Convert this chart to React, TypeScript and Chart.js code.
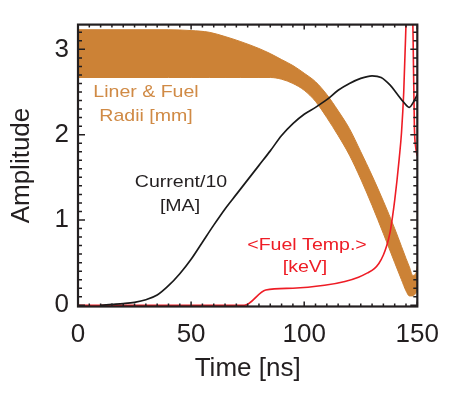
import React, { useEffect, useRef } from 'react';
import { Chart, registerables } from 'chart.js';

Chart.register(...registerables);

// Liner & fuel radii band (mm)
const bandTime = [0, 40, 50, 58, 65, 72, 80, 85, 90, 95, 100, 105, 110, 115, 120, 125, 130, 135, 140, 143, 145, 146.5, 148, 149.3, 150];
const linerOuter = [3.23, 3.23, 3.22, 3.2, 3.15, 3.09, 3.01, 2.95, 2.88, 2.81, 2.72, 2.62, 2.47, 2.28, 2.07, 1.8, 1.52, 1.22, 0.9, 0.69, 0.55, 0.45, 0.35, 0.37, 0.46];
const fuelInner = [2.67, 2.67, 2.67, 2.67, 2.67, 2.67, 2.67, 2.67, 2.65, 2.6, 2.52, 2.39, 2.2, 1.99, 1.76, 1.48, 1.17, 0.84, 0.5, 0.3, 0.17, 0.11, 0.11, 0.14, 0.18];

// Current / 10 (MA)
const currentTime = [10, 15, 20, 25, 30, 35, 40, 45, 50, 55, 60, 65, 70, 75, 80, 85, 90, 95, 100, 105, 110, 115, 120, 125, 130, 134, 138, 141, 144, 146.5, 148, 150];
const currentValues = [0, 0.01, 0.02, 0.035, 0.065, 0.12, 0.23, 0.37, 0.54, 0.74, 0.94, 1.13, 1.3, 1.47, 1.64, 1.81, 1.99, 2.13, 2.24, 2.32, 2.41, 2.52, 2.6, 2.66, 2.69, 2.67, 2.58, 2.48, 2.38, 2.32, 2.37, 2.47];

// <Fuel Temp.> (keV)
const tempTime = [0, 73.5, 83, 95, 109, 118, 124, 128, 131, 133, 135, 136.5, 138, 139, 140, 141, 142, 143, 144, 145, 146, 146.8, 147.5, 148.1, 148.7, 149.3, 150];
const tempValues = [0, 0, 0.18, 0.2, 0.235, 0.28, 0.33, 0.38, 0.43, 0.49, 0.59, 0.7, 0.86, 1.03, 1.23, 1.46, 1.72, 2.02, 2.5, 3.3, 4.2, 4.6, 4.0, 3.2, 2.1, 1.85, 1.75];

const xTickValues = [0, 50, 100, 150];
const yTickValues = [0, 1, 2, 3];

const BAND = '#cc8236';
const RED = '#ee1c25';
const INK = '#231f20';
const FONT = "'Liberation Sans', Arial, Helvetica, sans-serif";

const zip = (xs: number[], ys: number[]) => xs.map((x, i) => ({ x, y: ys[i] }));

const framePlugin = {
  id: 'frame',
  afterDatasetsDraw(chart: any) {
    const { ctx, chartArea, scales } = chart;
    const { left, right, top, bottom } = chartArea;
    const xs = scales.x;
    const ys = scales.y;
    ctx.save();
    ctx.strokeStyle = INK;
    ctx.lineWidth = 1.5;
    ctx.beginPath();
    for (let t = 0; t <= 150; t += 5) {
      const px = xs.getPixelForValue(t);
      const len = t % 50 === 0 ? 5 : 3;
      ctx.moveTo(px, bottom);
      ctx.lineTo(px, bottom - len);
      ctx.moveTo(px, top);
      ctx.lineTo(px, top + len);
    }
    for (let k = 0; k <= 32; k++) {
      const v = k / 10;
      const py = ys.getPixelForValue(v);
      const len = k % 10 === 0 ? 7 : 4;
      ctx.moveTo(left, py);
      ctx.lineTo(left + len, py);
      ctx.moveTo(right, py);
      ctx.lineTo(right - len, py);
    }
    ctx.stroke();
    ctx.lineWidth = 2.2;
    ctx.strokeRect(left, top, right - left, bottom - top);

    const label = (text: string, cx: number, by: number, color: string) => {
      ctx.save();
      ctx.translate(cx, by);
      ctx.scale(1.15, 1);
      ctx.font = `17px ${FONT}`;
      ctx.fillStyle = color;
      ctx.textAlign = 'center';
      ctx.textBaseline = 'alphabetic';
      ctx.fillText(text, 0, 0);
      ctx.restore();
    };
    label('Liner & Fuel', 146, 97, '#d08a45');
    label('Radii [mm]', 146, 121, '#d08a45');
    label('Current/10', 181, 187, INK);
    label('[MA]', 180, 211, INK);
    label('<Fuel Temp.>', 307, 250, RED);
    label('[keV]', 305, 272, RED);
    ctx.restore();
  },
};

export default function App() {
  const ref = useRef<HTMLCanvasElement | null>(null);
  useEffect(() => {
    if (!ref.current) return;
    const chart = new Chart(ref.current, {
      type: 'line',
      data: {
        datasets: [
          {
            label: 'Current/10 [MA]',
            data: zip(currentTime, currentValues),
            borderColor: '#1a1a1a',
            borderWidth: 1.7,
            pointRadius: 0,
            fill: false,
            cubicInterpolationMode: 'monotone',
          },
          {
            label: '<Fuel Temp.> [keV]',
            data: zip(tempTime, tempValues),
            borderColor: RED,
            borderWidth: 1.6,
            pointRadius: 0,
            fill: false,
            cubicInterpolationMode: 'monotone',
            clip: { left: 0, top: 0, right: 0, bottom: 3 },
          },
          {
            label: 'Liner radius',
            data: zip(bandTime, linerOuter),
            borderColor: BAND,
            borderWidth: 1,
            pointRadius: 0,
            fill: false,
            cubicInterpolationMode: 'monotone',
          },
          {
            label: 'Fuel radius',
            data: zip(bandTime, fuelInner),
            borderColor: BAND,
            backgroundColor: BAND,
            borderWidth: 1,
            pointRadius: 0,
            fill: '-1',
            cubicInterpolationMode: 'monotone',
          },
        ],
      },
      options: {
        animation: false,
        responsive: true,
        maintainAspectRatio: false,
        layout: { padding: { left: 0, right: 34, top: 13.3, bottom: 0 } },
        plugins: { legend: { display: false }, tooltip: { enabled: false } },
        scales: {
          x: {
            type: 'linear',
            min: 0,
            max: 150,
            grid: { display: false, drawTicks: false },
            border: { display: false },
            afterBuildTicks: (s: any) => {
              s.ticks = xTickValues.map((v) => ({ value: v }));
            },
            afterFit: (s: any) => {
              s.height = 89.5;
            },
            ticks: {
              font: { family: FONT, size: 26 },
              color: INK,
              padding: 13,
              maxRotation: 0,
              autoSkip: false,
            },
            title: {
              display: true,
              text: 'Time [ns]',
              font: { family: FONT, size: 26 },
              color: INK,
              padding: { top: 4, bottom: 12 },
            },
          },
          y: {
            type: 'linear',
            min: -0.014,
            max: 3.29,
            grid: { display: false, drawTicks: false },
            border: { display: false },
            afterBuildTicks: (s: any) => {
              s.ticks = yTickValues.map((v) => ({ value: v }));
            },
            afterFit: (s: any) => {
              s.width = 78;
            },
            ticks: {
              font: { family: FONT, size: 26 },
              color: INK,
              padding: 9,
              autoSkip: false,
            },
            title: {
              display: true,
              text: 'Amplitude',
              font: { family: FONT, size: 26 },
              color: INK,
              padding: { top: 6, bottom: 4 },
            },
          },
        },
      },
      plugins: [framePlugin],
    } as any);
    return () => chart.destroy();
  }, []);
  return (
    <div style={{ position: 'absolute', left: 0, top: 0, width: 452, height: 396 }}>
      <canvas ref={ref} />
    </div>
  );
}
